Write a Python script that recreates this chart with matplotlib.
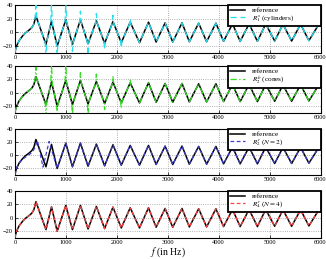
import matplotlib
matplotlib.use("Agg")
import matplotlib.pyplot as plt
import numpy as np

# Reference curve (dB) - key points
ref_f = [0, 10, 30, 80, 150, 200, 270, 330, 370, 411, 608, 717, 828, 998, 1128, 1285,
         1435, 1598, 1760, 1924, 2087, 2263, 2445, 2622, 2772, 2948, 3098, 3280, 3424,
         3607, 3763, 3946, 4096, 4272, 4422, 4598, 4761, 4924, 5100, 5263, 5433, 5609,
         5772, 5960, 6000]
ref_db = [-30, -25, -20, -12, -5, -1, 3, 7, 12, 24, -17.5, 16.5, -20, 18.5, -17.5, 18.5,
          -16.5, 17, -16, 16, -15, 15, -15, 15, -14, 14, -14, 14, -13.5, 13.5, -13.5, 13.5,
          -13, 12.5, -13, 12.5, -13, 12.5, -12.5, 12, -12.5, 12, -12, 11, 9]

# R1^s (cylinders)
cyl_f = [0, 10, 30, 80, 150, 200, 270, 330, 370, 396, 411, 426, 593, 608, 623, 702, 717, 732,
         813, 828, 843, 983, 998, 1013, 1113, 1128, 1143, 1270, 1285, 1300, 1420, 1435, 1450,
         1583, 1598, 1613, 1745, 1760, 1775, 1909, 1924, 1939, 2072, 2087, 2102, 2248, 2263,
         2278, 2445, 2622, 2772, 2948, 3098, 3280, 3424, 3607, 3763, 3946, 4096, 4272, 4422,
         4598, 4761, 4924, 5100, 5263, 5433, 5609, 5772, 5960, 6000]
cyl_db = [-30, -25, -20, -12, -5, -1, 3, 7, 12, 21, 46, 21, -14.5, -34, -14.5, 13.5, 46, 13.5,
          -17, -34, -17, 15.5, 45, 15.5, -14.5, -27.5, -14.5, 15.5, 31, 15.5, -13.5, -34, -13.5,
          14, 27.5, 14, -13, -25, -13, 13, 25, 13, -12, -22.5, -12, 12, 20, 12, -15, 15, -14,
          14, -14, 14, -13.5, 13.5, -13.5, 13.5, -13, 12.5, -13, 12.5, -13, 12.5, -12.5, 12,
          -12.5, 12, -12, 11, 9]

# R2^b (cones)
cone_f = cyl_f
cone_db = [-30, -25, -20, -12, -5, -1, 3, 7, 12, 21, 38, 21, -14.5, -34, -14.5, 13.5, 46, 13.5,
           -17, -28, -17, 15.5, 45, 15.5, -14.5, -34, -14.5, 15.5, 30, 15.5, -13.5, -34, -13.5,
           14, 28, 14, -13, -25, -13, 13, 24, 13, -12, -23, -12, 12, 19, 12, -15, 15, -14,
           14, -14, 14, -13.5, 13.5, -13.5, 13.5, -13, 12.5, -13, 12.5, -13, 12.5, -12.5, 12,
           -12.5, 12, -12, 11, 9]

# R2^r (N=2)
n2_f = [0, 20, 60, 120, 200, 280, 340, 380, 440, 550, 670, 828, 998, 1128, 1285, 1435, 1598,
        1760, 1924, 2087, 2263, 2445, 2622, 2772, 2948, 3098, 3280, 3424, 3607, 3763, 3946,
        4096, 4272, 4422, 4598, 4761, 4924, 5100, 5263, 5433, 5609, 5772, 5960, 6000]
n2_db = [-30, -22, -14, -8, -3, 1, 5, 10, 22, -18, 21, -20, 18.5, -17.5, 18.5, -16.5, 17, -16,
         16, -15, 15, -15, 15, -14, 14, -14, 14, -13.5, 13.5, -13.5, 13.5, -13, 12.5, -13, 12.5,
         -13, 12.5, -12.5, 12, -12.5, 12, -12, 11, 9]

# R4^r (N=4) - indistinguishable from the reference
n4_f = ref_f
n4_db = [-30, -25, -20, -12, -5, -1, 3, 7, 12, 24, -17.5, 16.5, -20, 18.5, -17.5, 18.5,
         -16.5, 17, -16, 16, -15, 15, -15, 15, -14, 14, -14, 14, -13.5, 13.5, -13.5, 13.5,
         -13, 12.5, -13, 12.5, -13, 12.5, -12.5, 12, -12.5, 12, -12, 11, 9]

labels = [r"$R_1^s$ (cylinders)", r"$R_2^b$ (cones)", r"$R_2^r$ ($N=2$)", r"$R_4^r$ ($N=4$)"]
models = [(cyl_f, cyl_db), (cone_f, cone_db), (n2_f, n2_db), (n4_f, n4_db)]
colors = ["#22e0f0", "#33dd22", "#4040d0", "#ff4444"]
styles = [(0, (5, 3)), (0, (5, 2, 1, 2)), (0, (3, 2)), (0, (3, 2))]

plt.rcParams['font.family'] = ['Liberation Serif', 'DejaVu Serif']
plt.rcParams['mathtext.fontset'] = 'stix'

W, H = 326, 259
fig = plt.figure(figsize=(W / 100, H / 100), dpi=100)
tops = [5, 66, 129, 191]
bots = [53, 113, 175, 238]
left, right = 15, 320.5
legw = (right - 228) / (right - left)
for i in range(4):
    ax = fig.add_axes([left / W, 1 - bots[i] / H, (right - left) / W, (bots[i] - tops[i]) / H])
    ax.plot(ref_f, ref_db, color='black', lw=1.1, label='reference', zorder=3)
    mf, md = models[i]
    ax.plot(mf, md, color=colors[i], lw=0.9, linestyle=styles[i], label=labels[i], zorder=4)
    ax.set_xlim(0, 6000)
    ax.set_ylim(-30, 40)
    ax.set_xticks([0, 1000, 2000, 3000, 4000, 5000, 6000])
    ax.set_yticks([-20, 0, 20, 40])
    ax.grid(True, linestyle=':', color='#999999', lw=0.6)
    ax.tick_params(labelsize=4.6, length=2, width=0.5, pad=1.5, direction='in')
    for s in ax.spines.values():
        s.set_linewidth(0.8)
    leg = ax.legend(loc='upper right', bbox_to_anchor=(1 - legw, 0, legw, 1), mode='expand',
                    fontsize=5.2, borderaxespad=0, handlelength=2.0,
                    fancybox=False, framealpha=1, borderpad=0.3, labelspacing=0.0,
                    handletextpad=1.0)
    leg.get_frame().set_edgecolor('black')
    leg.get_frame().set_linewidth(1.3)
    if i == 3:
        ax.set_xlabel(r"$f$ (in Hz)", fontsize=7, labelpad=0)

fig.savefig("out.png", dpi=100)
